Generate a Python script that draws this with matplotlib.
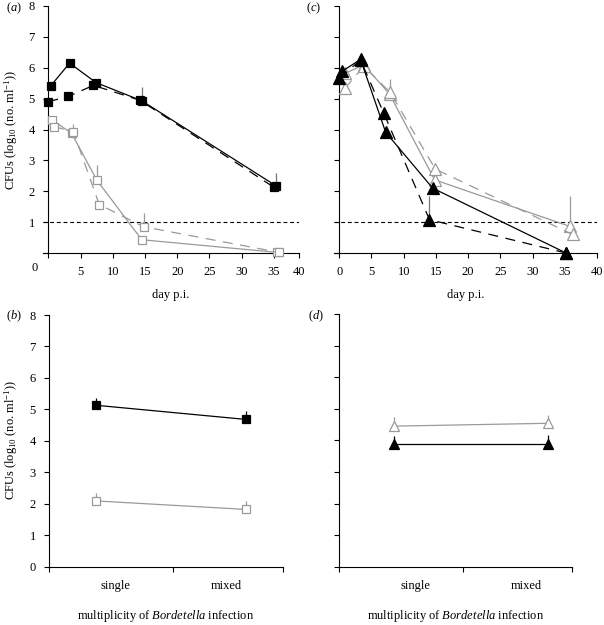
import matplotlib
matplotlib.use("Agg")
import matplotlib.pyplot as plt
import numpy as np

plt.rcParams['font.family'] = ['Liberation Serif', 'DejaVu Serif']
plt.rcParams['mathtext.fontset'] = 'custom'
plt.rcParams['mathtext.rm'] = 'Liberation Serif'
plt.rcParams['mathtext.it'] = 'Liberation Serif:italic'

# ---------------- data ----------------
# panel (a)
a_bs_day = [0.4, 3.3, 7.4, 14.5, 35.3]
a_bs_val = [5.42, 6.15, 5.52, 4.93, 2.18]
a_bs_err = [0, 0, 0, 0.44, 0.42]
a_bd_day = [0.0, 3.1, 7.0, 14.2, 35.0]
a_bd_val = [4.90, 5.07, 5.43, 4.95, 2.13]
a_bd_err = [0, 0, 0, 0, 0]
a_gs_day = [0.6, 3.6, 7.5, 14.5, 35.5]
a_gs_val = [4.31, 3.88, 2.37, 0.43, 0.02]
a_gs_err = [0, 0, 0.49, 0, 0]
a_gd_day = [0.9, 3.9, 7.9, 14.8, 35.8]
a_gd_val = [4.09, 3.93, 1.57, 0.85, 0.02]
a_gd_err = [0, 0.25, 0, 0.45, 0]

# panel (c)
c_bs_day = [0.4, 3.3, 7.2, 14.5, 35.2]
c_bs_val = [5.88, 6.27, 3.91, 2.10, 0.0]
c_bs_err = [0, 0, 0, 0, 0]
c_bd_day = [0.0, 3.3, 6.9, 14.0, 35.2]
c_bd_val = [5.66, 6.25, 4.53, 1.08, 0.0]
c_bd_err = [0, 0, 0, 0.75, 0]
c_gs_day = [0.9, 3.8, 7.8, 14.8, 35.8]
c_gs_val = [5.82, 6.09, 5.15, 2.37, 0.86]
c_gs_err = [0, 0, 0, 0, 0.97]
c_gd_day = [0.9, 3.8, 7.9, 14.9, 36.2]
c_gd_val = [5.34, 6.05, 5.20, 2.72, 0.60]
c_gd_err = [0.15, 0, 0.45, 0, 0]

detection_limit = 1.0

# panels (b) and (d)
categories = ['single', 'mixed']
b_black = [5.13, 4.68]
b_black_err = [0.24, 0.27]
b_grey = [2.09, 1.82]
b_grey_err = [0.24, 0.27]
d_grey = [4.45, 4.54]
d_grey_err = [0.28, 0.26]
d_black = [3.90, 3.90]
d_black_err = [0.24, 0.27]

day_ticks = [0, 5, 10, 15, 20, 25, 30, 35, 40]
y_ticks = [0, 1, 2, 3, 4, 5, 6, 7, 8]

# ---------------- figure ----------------
W, H = 604, 625
fig = plt.figure(figsize=(W / 100, H / 100), dpi=100)

def px_axes(l, r, t, b):
    return fig.add_axes([l / W, 1 - b / H, (r - l) / W, (b - t) / H])

GREY = '#9a9a9a'
FS = 9
ylab = r'CFUs (log$_{10}$ (no. ml$^{-1}$))'

def style(ax):
    for s in ['top', 'right']:
        ax.spines[s].set_visible(False)
    ax.spines['left'].set_position(('data', 0))
    ax.spines['left'].set_linewidth(0.8)
    ax.spines['bottom'].set_linewidth(0.8)
    ax.tick_params(direction='out', length=3.6, width=0.8, labelsize=FS, pad=6)

def series(ax, d, v, e, color, ls, marker, ms, mfc, ecol):
    ax.errorbar(d, v, yerr=[np.zeros(len(e)), e], fmt='none', ecolor=ecol,
                elinewidth=0.9, capsize=0, zorder=2)
    ax.plot(d, v, color=color, ls=ls, lw=0.9, marker=marker, ms=ms,
            mfc=mfc, mec=color, mew=0.9, zorder=3, clip_on=False)

DASH = (0, (8, 6))

def put_ylabel(ax, yc_px):
    fig.text(11 / W, 1 - yc_px / H, ylab, fontsize=FS, rotation=90,
             ha='center', va='center')

# (a)
axa = px_axes(42.7, 299, 6, 253)
style(axa)
axa.set_xlim(-0.87, 38.9)
axa.set_ylim(0, 8)
axa.axhline(detection_limit, color='black', lw=0.8, ls=(0, (3.5, 2.5)), zorder=1)
series(axa, a_gs_day, a_gs_val, a_gs_err, GREY, '-', 's', 6.2, 'white', GREY)
series(axa, a_gd_day, a_gd_val, a_gd_err, GREY, DASH, 's', 6.2, 'white', GREY)
series(axa, a_bd_day, a_bd_val, a_bd_err, 'black', DASH, 's', 6.2, 'black', '#777777')
series(axa, a_bs_day, a_bs_val, a_bs_err, 'black', '-', 's', 6.2, 'black', '#777777')
tick_pos_a = [d if d < 40 else 38.9 for d in day_ticks]
axa.set_xticks(tick_pos_a)
axa.set_xticklabels([''] + [str(d) for d in day_ticks[1:]])
axa.set_yticks(y_ticks)
axa.set_yticklabels([''] + [str(y) for y in y_ticks[1:]])
axa.text(-2.2, -0.48, '0', fontsize=FS, ha='center', va='center')
axa.set_xlabel('day p.i.', fontsize=FS, labelpad=8)
put_ylabel(axa, 130)
fig.text(14 / W, 1 - 8 / H, r'($\mathit{a}$)', fontsize=FS, ha='center', va='center')

# (c)
axc = px_axes(334, 597, 6, 253)
style(axc)
axc.set_xlim(-0.82, 40)
axc.set_ylim(0, 8)
axc.axhline(detection_limit, color='black', lw=0.8, ls=(0, (3.5, 2.5)), zorder=1)
series(axc, c_gs_day, c_gs_val, c_gs_err, GREY, '-', '^', 8.5, 'white', GREY)
series(axc, c_gd_day, c_gd_val, c_gd_err, GREY, DASH, '^', 8.5, 'white', GREY)
series(axc, c_bd_day, c_bd_val, c_bd_err, 'black', DASH, '^', 8.5, 'black', '#777777')
series(axc, c_bs_day, c_bs_val, c_bs_err, 'black', '-', '^', 8.5, 'black', '#777777')
axc.set_xticks(day_ticks)
axc.set_xticklabels([str(d) for d in day_ticks])
axc.set_yticks(y_ticks)
axc.set_yticklabels([])
axc.set_xlabel('day p.i.', fontsize=FS, labelpad=8)
fig.text(314 / W, 1 - 8 / H, r'($\mathit{c}$)', fontsize=FS, ha='center', va='center')

xlab_b = r'multiplicity of $\mathit{Bordetella}$ infection'

def cat_panel(ax, xlim, mid_tick, label_pos):
    style(ax)
    ax.spines['left'].set_position(('data', xlim[0]))
    ax.set_xlim(*xlim)
    ax.set_ylim(0, 8)
    ax.set_xticks([xlim[0], mid_tick, xlim[1]])
    ax.set_xticklabels([])
    ax.set_yticks(y_ticks)
    for p, c in zip(label_pos, categories):
        ax.text(p, -0.62, c, fontsize=FS, ha='center', va='center')
    ax.text(np.mean(xlim), -1.56, xlab_b, fontsize=FS, ha='center', va='center')

xpos = np.arange(len(categories))

# (b)
axb = px_axes(49.3, 282.7, 315, 566.7)
cat_panel(axb, (-0.313, 1.243), 0.509, [0.127, 0.869])
series(axb, xpos, b_grey, b_grey_err, GREY, '-', 's', 6.0, 'white', GREY)
series(axb, xpos, b_black, b_black_err, 'black', '-', 's', 6.0, 'black', 'black')
put_ylabel(axb, 440)
fig.text(14 / W, 1 - 316 / H, r'($\mathit{b}$)', fontsize=FS, ha='center', va='center')

# (d)
axd = px_axes(339.3, 571.7, 314, 566.7)
cat_panel(axd, (-0.354, 1.155), 0.446, [0.139, 0.858])
axd.set_yticklabels([])
series(axd, xpos, d_grey, d_grey_err, GREY, '-', '^', 7.0, 'white', GREY)
series(axd, xpos, d_black, d_black_err, 'black', '-', '^', 7.0, 'black', 'black')
fig.text(316 / W, 1 - 316 / H, r'($\mathit{d}$)', fontsize=FS, ha='center', va='center')

fig.savefig('out.png', dpi=100)
